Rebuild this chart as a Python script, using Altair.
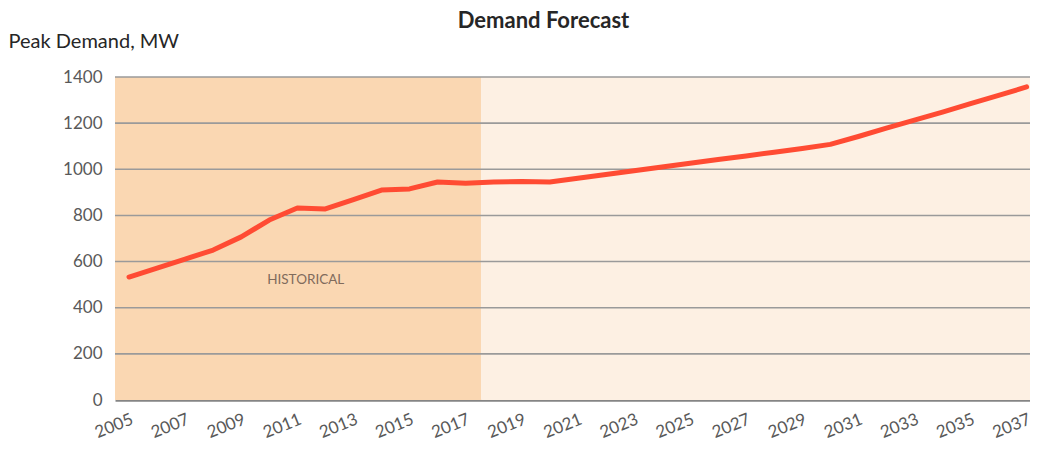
import altair as alt
import pandas as pd

years = list(range(2005, 2038))
demand = [533, 572, 611, 650, 707, 780, 832, 828, 869, 910, 915, 945, 940,
          945, 947, 945, 961, 977, 994, 1010, 1026, 1042, 1058, 1074, 1090,
          1108, 1142, 1178, 1213, 1248, 1285, 1320, 1357]

period_names = ["HISTORICAL", "FORECAST"]
period_start = [2004.5, 2017.55]
period_end = [2017.55, 2037.12]
period_colors = ["#FAD7B2", "#FDF0E3"]

grid_values = [200, 400, 600, 800, 1000, 1200, 1400]
tick_years = list(range(2005, 2038, 2))

label_text = ["HISTORICAL"]
label_year = [2011.3]
label_value = [520]

FONT = "Lato"

df = pd.DataFrame({"year": years, "demand": demand})
periods = pd.DataFrame({"name": period_names, "start": period_start,
                        "end": period_end, "color": period_colors})
grid = pd.DataFrame({"v": grid_values})
labels = pd.DataFrame({"t": label_text, "x": label_year, "y": label_value})

xscale = alt.Scale(domain=[2004.5, 2037.12], nice=False, zero=False)
yscale = alt.Scale(domain=[0, 1400], nice=False)

xaxis = alt.Axis(values=tick_years, format="d", title=None, grid=False,
                 ticks=False, domain=True, domainColor="#858585",
                 domainWidth=2.5, labelAngle=338, labelAlign="right",
                 labelBaseline="top", labelPadding=11, labelFont=FONT,
                 labelFontSize=17, labelColor="#595959", labelOverlap=False,
                 labelFlush=False)
yaxis = alt.Axis(values=[0] + grid_values, format="d", title="Peak Demand, MW",
                 grid=False, ticks=False, domain=False, labelFont=FONT,
                 labelFontSize=17, labelColor="#595959", labelPadding=13,
                 titleAngle=0, titleAlign="left", titleBaseline="middle",
                 titleX=-107, titleY=-36, titleFont=FONT, titleFontSize=20,
                 titleFontWeight="normal", titleColor="#262626")

rects = alt.Chart(periods).mark_rect().encode(
    x=alt.X("start:Q", scale=xscale, axis=xaxis),
    x2="end:Q",
    y=alt.value(0),
    y2=alt.value(323),
    color=alt.Color("color:N", scale=None, legend=None),
)

rules = alt.Chart(grid).mark_rule(color="#9A9A9A", strokeWidth=1.6).encode(
    y=alt.Y("v:Q", scale=yscale, axis=yaxis),
)

text = alt.Chart(labels).mark_text(font=FONT, fontSize=13.5, color="#806B5C",
                                   align="center", baseline="middle").encode(
    x=alt.X("x:Q", scale=xscale),
    y=alt.Y("y:Q", scale=yscale),
    text="t:N",
)

line = alt.Chart(df).mark_line(color="#FF4B33", strokeWidth=5,
                               strokeCap="round", strokeJoin="round").encode(
    x=alt.X("year:Q", scale=xscale),
    y=alt.Y("demand:Q", scale=yscale),
)

chart = alt.layer(rects, rules, text, line).properties(
    width=915,
    height=323,
    title=alt.TitleParams("Demand Forecast", font=FONT, fontSize=22,
                          fontWeight="bold", color="#262626", anchor="middle",
                          dx=-29, dy=6),
    autosize=alt.AutoSizeParams(type="none"),
    padding={"left": 107, "top": 69, "right": 0, "bottom": 43},
).configure_view(stroke=None)

chart.save("out.html", embed_options={"renderer": "svg", "actions": False})
